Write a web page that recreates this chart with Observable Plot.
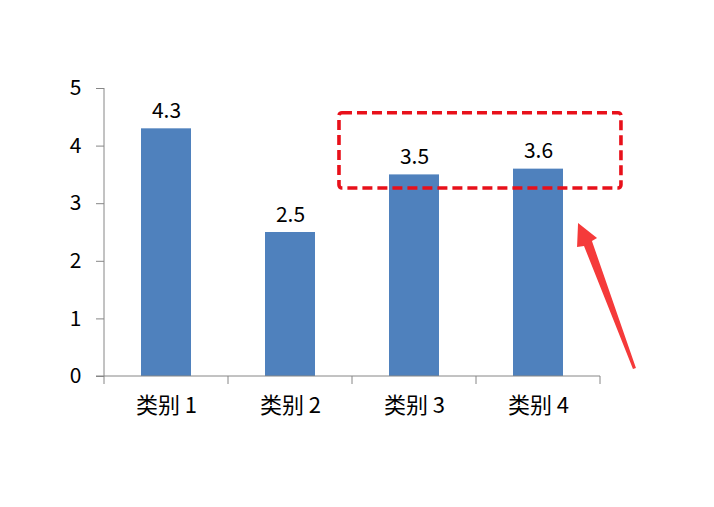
<!DOCTYPE html>
<html>
<head>
<meta charset="utf-8">
<script src="https://cdn.jsdelivr.net/npm/d3@7"></script>
<script src="https://cdn.jsdelivr.net/npm/@observablehq/plot@0.6"></script>
<style>
  html, body { margin: 0; padding: 0; background: #fff; }
  svg { display: block; }
</style>
</head>
<body>
<div id="chart"></div>
<script>
const categories = ["类别 1", "类别 2", "类别 3", "类别 4"];
const values = [4.3, 2.5, 3.5, 3.6];
const yTicks = [0, 1, 2, 3, 4, 5];

// Annotation, in band-index units (x) and value units (y)
const boxU = [1.895, 4.169];
const boxV = [3.264, 4.571];
const arrowU = [3.823, 3.976, 3.935, 4.290, 4.266, 3.871, 3.815];
const arrowV = [2.656, 2.396, 2.344, 0.139, 0.122, 2.257, 2.240];

const data = categories.map((c, i) => ({ cat: c, value: values[i] }));
const font = "'Noto Sans CJK SC', 'Noto Sans', sans-serif";

const plot = Plot.plot({
  width: 714,
  height: 507,
  marginLeft: 104,
  marginRight: 114,
  marginTop: 88,
  marginBottom: 131,
  style: { fontFamily: font, fontSize: "21px", color: "#000", background: "#fff" },
  x: { domain: categories, paddingInner: 0.6, paddingOuter: 0.3, label: null, axis: null },
  y: { domain: [0, 5], ticks: yTicks, label: null, axis: null },
  marks: [
    Plot.barY(data, { x: "cat", y: "value", fill: "#4F81BD" }),
    Plot.text(data, { x: "cat", y: "value", text: d => d.value.toFixed(1), dy: -11, lineAnchor: "bottom", fontSize: 21, fill: "#000" }),
    Plot.axisY({ ticks: yTicks, tickSize: 8, tickPadding: 15, stroke: "#868686", fontSize: 21, fill: "#000", tickFormat: d => String(d) }),
    Plot.axisX({ tickSize: 0, tickPadding: 21, fontSize: 22, fill: "#000" })
  ]
});

const svg = d3.select(plot);
const xs = plot.scale("x");
const ys = plot.scale("y");
const x0 = xs.range[0], x1 = xs.range[1];
const step = (x1 - x0) / categories.length;
const ux = u => x0 + u * step;
const g = svg.append("g");
// y axis line
g.append("line").attr("x1", x0).attr("x2", x0).attr("y1", ys.apply(0)).attr("y2", ys.apply(5))
  .attr("stroke", "#868686");
// x boundary ticks
for (let i = 0; i <= categories.length; i++) {
  g.append("line").attr("x1", ux(i)).attr("x2", ux(i)).attr("y1", ys.apply(0)).attr("y2", ys.apply(0) + 8)
    .attr("stroke", "#868686");
}
// x axis line across the full range
g.append("line").attr("x1", x0 - 8).attr("x2", x1).attr("y1", ys.apply(0)).attr("y2", ys.apply(0))
  .attr("stroke", "#868686");

// dashed box
g.append("rect")
  .attr("x", ux(boxU[0])).attr("y", ys.apply(boxV[1]))
  .attr("width", ux(boxU[1]) - ux(boxU[0])).attr("height", ys.apply(boxV[0]) - ys.apply(boxV[1]))
  .attr("rx", 3).attr("fill", "none").attr("stroke", "#E8101A")
  .attr("stroke-width", 3.6).attr("stroke-dasharray", "10 5");
// arrow
g.append("polygon")
  .attr("points", arrowU.map((u, i) => `${ux(u)},${ys.apply(arrowV[i])}`).join(" "))
  .attr("fill", "#F53A3A");

document.getElementById("chart").appendChild(plot);
</script>
</body>
</html>
